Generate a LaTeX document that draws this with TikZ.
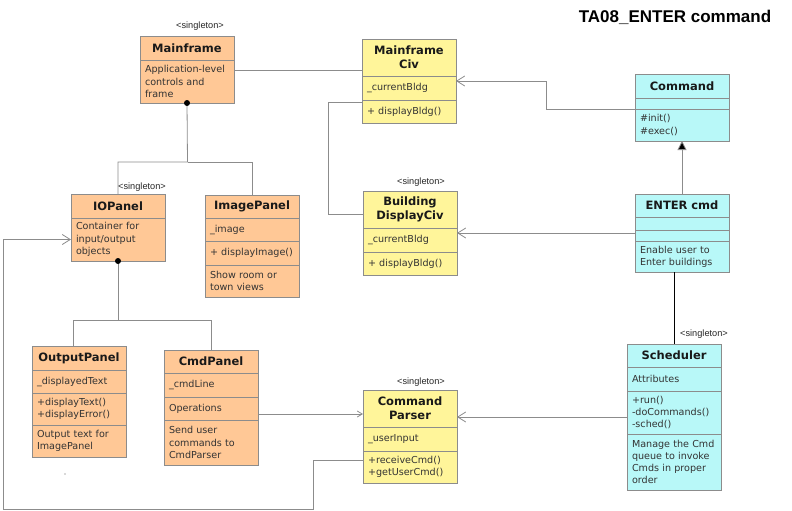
\documentclass[tikz,border=0pt]{standalone}
\usepackage{fontspec}
\usepackage{tikz}
\usetikzlibrary{arrows.meta,positioning}

\newfontfamily\umlfont{DejaVu Sans}
\newfontfamily\labelfont{Liberation Sans}
\newcommand\umlbody{\umlfont\fontsize{9.6}{12.2}\selectfont\hyphenpenalty=10000}
\newcommand\umltitle{\umlfont\bfseries\fontsize{11.5}{14}\selectfont}
\newcommand\stereotext{\labelfont\fontsize{9.2}{10}\selectfont}

\definecolor{umlorange}{HTML}{FFC896}
\definecolor{umlyellow}{HTML}{FFF59A}
\definecolor{umlcyan}{HTML}{B8F8F8}
\definecolor{umlline}{HTML}{8C8C8C}
\definecolor{umltext}{HTML}{333333}

\begin{document}
\begin{tikzpicture}[x=1pt,y=-1pt,
  box/.style={draw=umlline,line width=0.8pt,anchor=north west,outer sep=0pt,
    inner xsep=5pt,inner ysep=0pt,text width=84pt,align=left,font=\umlbody,text=umltext},
  boxtitle/.style={box,align=center,font=\umltitle,text=black!90},
  stereo/.style={font=\stereotext,inner sep=0pt,text=black!85},
  link/.style={draw=umlline,line width=0.8pt},
  opentip/.style={-{Straight Barb[length=8pt,width=10pt]}},
  smalltip/.style={-{Straight Barb[length=5pt,width=6pt]}},
  inherit/.style={-{Triangle[length=9pt,width=9pt,fill=black]}}]
  \useasboundingbox (0,0) rectangle (792,511);

  % Title
  \node[font=\labelfont\bfseries\fontsize{17}{20}\selectfont] (heading) at (675,17) {TA08\_ENTER command};

  % Mainframe
  \node[stereo] (mfst) at (200,26) {<singleton>};
  \node[boxtitle,fill=umlorange,minimum height=24pt] (mf) at (140,36) {Mainframe};
  \node[box,fill=umlorange,minimum height=43pt] (mfbody) at (mf.south west) {Application-level\\controls and\\frame};

  % Mainframe Civ
  \node[boxtitle,fill=umlyellow,minimum height=37pt] (mfciv) at (362,39) {Mainframe\\Civ};
  \node[box,fill=umlyellow,minimum height=24pt] (mfcivattr) at (mfciv.south west) {\_currentBldg};
  \node[box,fill=umlyellow,minimum height=23pt] (mfcivops) at (mfcivattr.south west) {+~displayBldg()};

  % Command
  \node[boxtitle,fill=umlcyan,minimum height=24pt] (cmd) at (635,74) {Command};
  \node[box,fill=umlcyan,minimum height=11pt] (cmdattr) at (cmd.south west) {};
  \node[box,fill=umlcyan,minimum height=32pt] (cmdops) at (cmdattr.south west) {\#init()\\\#exec()};

  % Building DisplayCiv
  \node[stereo] (bdcst) at (421,182) {<singleton>};
  \node[boxtitle,fill=umlyellow,minimum height=37pt] (bdc) at (363,191) {Building\\DisplayCiv};
  \node[box,fill=umlyellow,minimum height=24pt] (bdcattr) at (bdc.south west) {\_currentBldg};
  \node[box,fill=umlyellow,minimum height=23pt] (bdcops) at (bdcattr.south west) {+~displayBldg()};

  % ENTER cmd
  \node[boxtitle,fill=umlcyan,minimum height=23pt] (ent) at (635,194) {ENTER cmd};
  \node[box,fill=umlcyan,minimum height=13pt] (entattr) at (ent.south west) {};
  \node[box,fill=umlcyan,minimum height=11pt] (entops) at (entattr.south west) {};
  \node[box,fill=umlcyan,minimum height=31pt] (entbody) at (entops.south west) {Enable user to\\Enter buildings};

  % Scheduler
  \node[stereo] (schedst) at (704,334) {<singleton>};
  \node[boxtitle,fill=umlcyan,minimum height=23pt] (sched) at (627,344) {Scheduler};
  \node[box,fill=umlcyan,minimum height=24pt] (schedattr) at (sched.south west) {Attributes};
  \node[box,fill=umlcyan,minimum height=43pt] (schedops) at (schedattr.south west) {+run()\\-doCommands()\\-sched()};
  \node[box,fill=umlcyan,minimum height=56pt] (schedbody) at (schedops.south west) {Manage the Cmd\\queue to invoke\\Cmds in proper\\order};

  % Command Parser
  \node[stereo] (cpst) at (421,382) {<singleton>};
  \node[boxtitle,fill=umlyellow,minimum height=37pt] (cp) at (363,390) {Command\\Parser};
  \node[box,fill=umlyellow,minimum height=24pt] (cpattr) at (cp.south west) {\_userInput};
  \node[box,fill=umlyellow,minimum height=32pt] (cpops) at (cpattr.south west) {+receiveCmd()\\+getUserCmd()};

  % IOPanel
  \node[stereo] (iopst) at (142,187) {<singleton>};
  \node[boxtitle,fill=umlorange,minimum height=24pt] (iop) at (71,194) {IOPanel};
  \node[box,fill=umlorange,minimum height=43pt] (iopbody) at (iop.south west) {Container for\\input/output\\objects};

  % ImagePanel
  \node[boxtitle,fill=umlorange,minimum height=23pt] (imgp) at (205,195) {ImagePanel};
  \node[box,fill=umlorange,minimum height=23pt] (imgpattr) at (imgp.south west) {\_image};
  \node[box,fill=umlorange,minimum height=24pt] (imgpops) at (imgpattr.south west) {+~displayImage()};
  \node[box,fill=umlorange,minimum height=32pt] (imgpbody) at (imgpops.south west) {Show room or\\town views};

  % OutputPanel
  \node[boxtitle,fill=umlorange,minimum height=24pt] (outp) at (32,346) {OutputPanel};
  \node[box,fill=umlorange,minimum height=23pt] (outpattr) at (outp.south west) {\_displayedText};
  \node[box,fill=umlorange,minimum height=32pt] (outpops) at (outpattr.south west) {+displayText()\\+displayError()};
  \node[box,fill=umlorange,minimum height=32pt] (outpbody) at (outpops.south west) {Output text for\\ImagePanel};

  % CmdPanel
  \node[boxtitle,fill=umlorange,minimum height=23pt] (cmdp) at (164,350) {CmdPanel};
  \node[box,fill=umlorange,minimum height=24pt] (cmdpattr) at (cmdp.south west) {\_cmdLine};
  \node[box,fill=umlorange,minimum height=23pt] (cmdpops) at (cmdpattr.south west) {Operations};
  \node[box,fill=umlorange,minimum height=45pt] (cmdpbody) at (cmdpops.south west) {Send user\\commands to\\CmdParser};

  % Mainframe links
  \coordinate (mfout) at ([yshift=11.5pt]mfbody.east);
  \draw[link] (mfout) -- (mfout -| mfciv.west);
  \coordinate (mfsplit) at (187.5,162);
  \draw[link] (mfbody.south) -- (mfsplit) -| (iop.north);
  \draw[link] (mfsplit) -| (imgp.north);
  \fill (mfbody.south) circle (3);

  % IOPanel links
  \coordinate (iopsplit) at (118,320);
  \draw[link] (iopbody.south) -- (iopsplit) -| ([xshift=-6pt]outp.north);
  \draw[link] (iopsplit) -| (cmdp.north);
  \fill (iopbody.south) circle (3);

  % Civ links
  \draw[link,opentip] (cmdattr.south west) -- ++(-89,0) |- ([yshift=-5pt]mfciv.south east);
  \draw[link] ([yshift=-2pt]mfcivops.north west) -- ++(-34,0) |- ([yshift=-4.5pt]bdc.west);
  \draw[link,inherit] (ent.north) -- (cmdops.south);
  \coordinate (entout) at ([yshift=2.5pt]entops.west);
  \draw[link,opentip] (entout) -- (entout -| bdcattr.east);
  \draw[line width=0.8pt] (entbody.south -| sched.north) -- (sched.north);

  % Parser links
  \coordinate (schedout) at ([yshift=-4.5pt]schedops.west);
  \draw[link,opentip] (schedout) -- (schedout -| cp.east);
  \coordinate (cmdpout) at ([yshift=-5.5pt]cmdpops.east);
  \draw[link,smalltip] (cmdpout) -- (cmdpout -| cp.west);
  \coordinate (cpout) at ([yshift=7pt]cpops.west);
  \coordinate (loopr) at (313,509);
  \coordinate (loopl) at (3,509);
  \draw[link,opentip] (cpout) -| (loopr) -- (loopl) |- (iopbody.west);

  \fill[black!30] (65,474) circle (0.8);
\end{tikzpicture}
\end{document}
